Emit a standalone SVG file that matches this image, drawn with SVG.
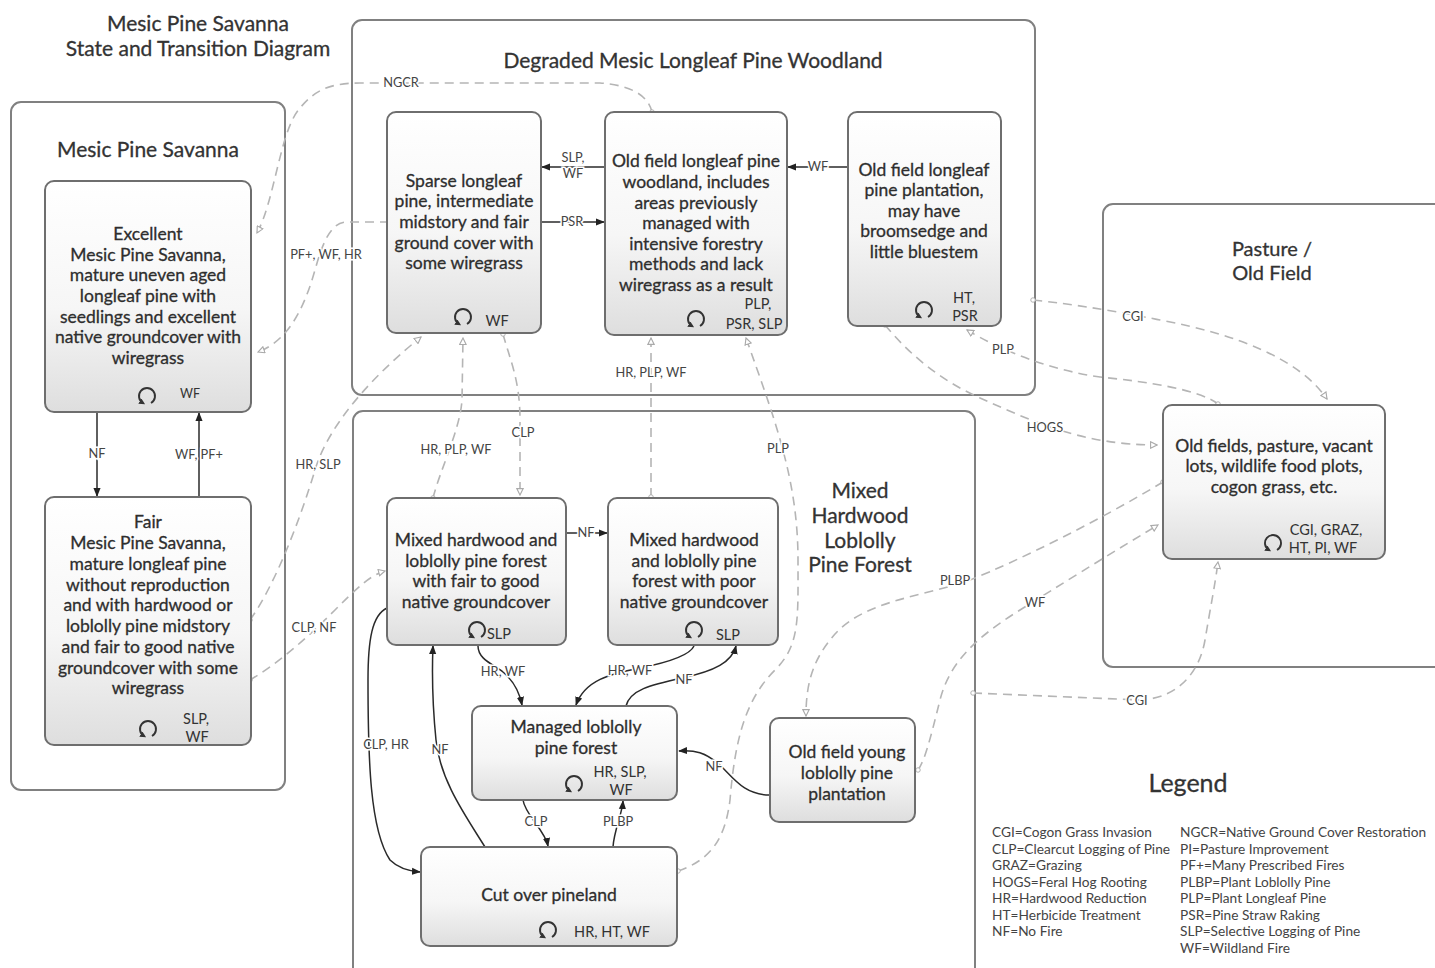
<svg xmlns="http://www.w3.org/2000/svg" width="1435" height="968" viewBox="0 0 1435 968">
<defs>
<style>
text{font-family:Lato,"Open Sans","Liberation Sans",sans-serif;fill:#2e2e2e}
.t{font-size:17.5px;text-anchor:middle;stroke:#2e2e2e;stroke-width:0.3}
.h{font-size:21px;text-anchor:middle;fill:#333;stroke:#333;stroke-width:0.3}
.l{font-size:12.8px;text-anchor:middle;fill:#444;stroke:#fff;stroke-width:3;paint-order:stroke}
.sl{font-size:14.5px;text-anchor:middle;fill:#333}
.lg{font-size:13.7px;fill:#444}
.cont{fill:#fff;stroke:#808080;stroke-width:2}
.node{fill:url(#gr);stroke:#6e6e6e;stroke-width:2}
.d{fill:none;stroke:#b5b5b5;stroke-width:1.6;stroke-dasharray:9 6;marker-end:url(#oa);marker-start:url(#oc)}
.a{fill:none;stroke:#2a2a2a;stroke-width:1.5;marker-end:url(#ar)}
.lp{fill:none;stroke:#333;stroke-width:1.9;marker-end:url(#la)}
</style>
<linearGradient id="gr" x1="0" y1="0" x2="0" y2="1">
<stop offset="0" stop-color="#ffffff"/>
<stop offset="0.55" stop-color="#f6f6f6"/>
<stop offset="1" stop-color="#dedede"/>
</linearGradient>
<marker id="ar" viewBox="0 0 10 10" refX="9" refY="5" markerWidth="6" markerHeight="6" orient="auto"><path d="M0,1 L10,5 L0,9 Z" fill="#222"/></marker>
<marker id="la" viewBox="0 0 10 10" refX="6" refY="5" markerWidth="3.2" markerHeight="3.2" orient="auto"><path d="M0,0 L10,5 L0,10 Z" fill="#333"/></marker>
<marker id="oa" viewBox="0 0 10 10" refX="9" refY="5" markerWidth="5" markerHeight="5" orient="auto" markerUnits="strokeWidth"><path d="M1,1 L9,5 L1,9 Z" fill="#fff" stroke="#aaa" stroke-width="1.4"/></marker>
<marker id="oc" viewBox="0 0 10 10" refX="5" refY="5" markerWidth="4" markerHeight="4" markerUnits="strokeWidth"><circle cx="5" cy="5" r="3.5" fill="#fff" stroke="#aaa" stroke-width="1.4"/></marker>
<g id="loop"><path class="lp" d="M4,7 A8,8 0 1 0 -4,7"/></g>
</defs>
<rect width="1435" height="968" fill="#fff"/>

<text class="h" x="198" y="31">Mesic Pine Savanna</text>
<text class="h" x="198" y="56">State and Transition Diagram</text>

<g id="c-mps">
<rect class="cont" x="11" y="102" width="274" height="688" rx="10"/>
<text class="h" x="148" y="157">Mesic Pine Savanna</text>
</g>
<g id="c-deg">
<rect class="cont" x="352" y="20" width="683" height="375" rx="10"/>
<text class="h" x="693" y="68">Degraded Mesic Longleaf Pine Woodland</text>
</g>
<g id="c-past">
<rect class="cont" x="1103" y="204" width="345" height="463" rx="10"/>
<text class="h" x="1272" y="256" style="font-size:20px">Pasture /</text>
<text class="h" x="1272" y="280" style="font-size:20px">Old Field</text>
</g>
<g id="c-mix">
<rect class="cont" x="353" y="411" width="622" height="580" rx="10"/>
<text class="h" x="860" y="498">Mixed</text>
<text class="h" x="860" y="523">Hardwood</text>
<text class="h" x="860" y="548">Loblolly</text>
<text class="h" x="860" y="572">Pine Forest</text>
</g>

<g id="connectors">
<path class="d" d="M652,112 C648,95 630,85 600,83 L360,83 C330,83 315,90 300,108 C280,130 275,200 257,233"/>
<path class="d" d="M389,222 L347,222 C330,222 322,245 315,270 C305,305 290,340 258,352"/>
<path class="d" d="M250,620 C275,585 300,520 315,470 C330,420 380,370 421,337"/>
<path class="d" d="M250,680 C275,665 300,645 335,610 C355,590 370,575 385,571"/>
<path class="d" d="M433,498 C440,470 460,430 462,400 L463,338"/>
<path class="d" d="M503,334 C510,360 520,380 520,420 L520,495"/>
<path class="d" d="M651,497 L651,338"/>
<path class="d" d="M678,871 C710,860 725,840 730,800 C735,740 745,700 775,670 C800,645 798,620 798,560 C798,480 775,420 746,338"/>
<path class="d" d="M1218,404 C1200,390 1150,382 1100,377 C1050,370 1000,350 967,330"/>
<path class="d" d="M1033,300 C1080,305 1120,312 1160,320 C1240,335 1300,360 1327,399"/>
<path class="d" d="M885,325 C910,355 940,380 980,398 C1030,420 1080,445 1157,445"/>
<path class="d" d="M1163,482 C1100,520 1020,560 970,580 C920,598 860,600 830,640 C810,665 806,690 806,716"/>
<path class="d" d="M918,770 C925,760 930,740 940,700 C950,660 980,635 1020,610 C1060,585 1100,560 1158,525"/>
<path class="d" d="M973,693 L1140,700 C1180,698 1200,670 1205,640 C1210,610 1215,585 1218,562"/>

<path class="a" d="M97,412 L97,496"/>
<path class="a" d="M199,497 L199,413"/>
<path class="a" d="M605,167 L542,167"/>
<path class="a" d="M541,222 L604,222"/>
<path class="a" d="M848,167 L788,167"/>
<path class="a" d="M566,533 L607,533"/>
<path class="a" d="M478,646 C478,660 495,665 503,672 C515,682 520,695 522,705"/>
<path class="a" d="M694,646 C690,655 670,662 640,668 C610,674 585,680 576,705"/>
<path class="a" d="M626,706 C630,690 650,685 682,678 C715,671 732,662 736,646"/>
<path class="a" d="M770,795 C745,795 735,780 720,765 C705,752 695,750 679,751"/>
<path class="a" d="M523,800 C525,815 545,830 548,846"/>
<path class="a" d="M613,847 C614,830 622,815 623,801"/>
<path class="a" d="M387,608 C372,615 368,640 368,680 C368,760 370,830 390,860 C398,868 408,871 420,872"/>
<path class="a" d="M485,847 C465,815 440,780 436,740 C432,700 432,670 433,646"/>

<text class="l" x="401" y="87">NGCR</text>
<text class="l" x="326" y="259">PF+, WF, HR</text>
<text class="l" x="318" y="469">HR, SLP</text>
<text class="l" x="314" y="632">CLP, NF</text>
<text class="l" x="456" y="454">HR, PLP, WF</text>
<text class="l" x="523" y="437">CLP</text>
<text class="l" x="651" y="377">HR, PLP, WF</text>
<text class="l" x="778" y="453">PLP</text>
<text class="l" x="1003" y="354">PLP</text>
<text class="l" x="1133" y="321">CGI</text>
<text class="l" x="1045" y="432">HOGS</text>
<text class="l" x="955" y="585">PLBP</text>
<text class="l" x="1035" y="607">WF</text>
<text class="l" x="1137" y="705">CGI</text>
<text class="l" x="97" y="458">NF</text>
<text class="l" x="199" y="459">WF, PF+</text>
<text class="l" x="573" y="162">SLP,</text>
<text class="l" x="573" y="178">WF</text>
<text class="l" x="572" y="226">PSR</text>
<text class="l" x="818" y="171">WF</text>
<text class="l" x="586" y="537">NF</text>
<text class="l" x="503" y="676">HR, WF</text>
<text class="l" x="630" y="675">HR, WF</text>
<text class="l" x="684" y="684">NF</text>
<text class="l" x="714" y="771">NF</text>
<text class="l" x="536" y="826">CLP</text>
<text class="l" x="618" y="826">PLBP</text>
<text class="l" x="386" y="749">CLP, HR</text>
<text class="l" x="440" y="754">NF</text>
</g>

<g id="n-excellent">
<rect class="node" x="45" y="181" width="206" height="231" rx="9"/>
<text class="t" x="148" y="240">Excellent</text>
<text class="t" x="148" y="261">Mesic Pine Savanna,</text>
<text class="t" x="148" y="281">mature uneven aged</text>
<text class="t" x="148" y="302">longleaf pine with</text>
<text class="t" x="148" y="323">seedlings and excellent</text>
<text class="t" x="148" y="343">native groundcover with</text>
<text class="t" x="148" y="364">wiregrass</text>
<use href="#loop" x="147" y="396"/>
<text class="sl" x="190" y="398" style="font-size:12.5px">WF</text>
</g>
<g id="n-fair">
<rect class="node" x="45" y="497" width="206" height="248" rx="9"/>
<text class="t" x="148" y="528">Fair</text>
<text class="t" x="148" y="549">Mesic Pine Savanna,</text>
<text class="t" x="148" y="570">mature longleaf pine</text>
<text class="t" x="148" y="591">without reproduction</text>
<text class="t" x="148" y="611">and with hardwood or</text>
<text class="t" x="148" y="632">loblolly pine midstory</text>
<text class="t" x="148" y="653">and fair to good native</text>
<text class="t" x="148" y="674">groundcover with some</text>
<text class="t" x="148" y="694">wiregrass</text>
<use href="#loop" x="148" y="729"/>
<text class="sl" x="196" y="724">SLP,</text>
<text class="sl" x="197" y="742">WF</text>
</g>
<g id="n-sparse">
<rect class="node" x="387" y="112" width="154" height="221" rx="9"/>
<text class="t" x="464" y="187">Sparse longleaf</text>
<text class="t" x="464" y="207">pine, intermediate</text>
<text class="t" x="464" y="228">midstory and fair</text>
<text class="t" x="464" y="249">ground cover with</text>
<text class="t" x="464" y="269">some wiregrass</text>
<use href="#loop" x="463" y="317"/>
<text class="sl" x="497" y="326">WF</text>
</g>
<g id="n-oldwood">
<rect class="node" x="605" y="112" width="182" height="223" rx="9"/>
<text class="t" x="696" y="167">Old field longleaf pine</text>
<text class="t" x="696" y="188">woodland, includes</text>
<text class="t" x="696" y="209">areas previously</text>
<text class="t" x="696" y="229">managed with</text>
<text class="t" x="696" y="250">intensive forestry</text>
<text class="t" x="696" y="270">methods and lack</text>
<text class="t" x="696" y="291">wiregrass as a result</text>
<use href="#loop" x="696" y="319"/>
<text class="sl" x="758" y="309">PLP,</text>
<text class="sl" x="754" y="329">PSR, SLP</text>
</g>
<g id="n-oldplant">
<rect class="node" x="848" y="112" width="153" height="214" rx="9"/>
<text class="t" x="924" y="176">Old field longleaf</text>
<text class="t" x="924" y="196">pine plantation,</text>
<text class="t" x="924" y="217">may have</text>
<text class="t" x="924" y="237">broomsedge and</text>
<text class="t" x="924" y="258">little bluestem</text>
<use href="#loop" x="924" y="310"/>
<text class="sl" x="964" y="303">HT,</text>
<text class="sl" x="965" y="321">PSR</text>
</g>
<g id="n-oldfields">
<rect class="node" x="1163" y="405" width="222" height="154" rx="9"/>
<text class="t" x="1274" y="452">Old fields, pasture, vacant</text>
<text class="t" x="1274" y="472">lots, wildlife food plots,</text>
<text class="t" x="1274" y="493">cogon grass, etc.</text>
<use href="#loop" x="1273" y="543"/>
<text class="sl" x="1326" y="535">CGI, GRAZ,</text>
<text class="sl" x="1323" y="553">HT, PI, WF</text>
</g>
<g id="n-mixfair">
<rect class="node" x="387" y="498" width="179" height="147" rx="9"/>
<text class="t" x="476" y="546">Mixed hardwood and</text>
<text class="t" x="476" y="567">loblolly pine forest</text>
<text class="t" x="476" y="587">with fair to good</text>
<text class="t" x="476" y="608">native groundcover</text>
<use href="#loop" x="477" y="630"/>
<text class="sl" x="499" y="639">SLP</text>
</g>
<g id="n-mixpoor">
<rect class="node" x="608" y="498" width="170" height="147" rx="9"/>
<text class="t" x="694" y="546">Mixed hardwood</text>
<text class="t" x="694" y="567">and loblolly pine</text>
<text class="t" x="694" y="587">forest with poor</text>
<text class="t" x="694" y="608">native groundcover</text>
<use href="#loop" x="694" y="630"/>
<text class="sl" x="728" y="640">SLP</text>
</g>
<g id="n-managed">
<rect class="node" x="472" y="706" width="205" height="94" rx="9"/>
<text class="t" x="576" y="733">Managed loblolly</text>
<text class="t" x="576" y="754">pine forest</text>
<use href="#loop" x="574" y="784"/>
<text class="sl" x="620" y="777">HR, SLP,</text>
<text class="sl" x="621" y="795">WF</text>
</g>
<g id="n-young">
<rect class="node" x="770" y="718" width="145" height="104" rx="9"/>
<text class="t" x="847" y="758">Old field young</text>
<text class="t" x="847" y="779">loblolly pine</text>
<text class="t" x="847" y="800">plantation</text>
</g>
<g id="n-cutover">
<rect class="node" x="421" y="847" width="256" height="99" rx="9"/>
<text class="t" x="549" y="901">Cut over pineland</text>
<use href="#loop" x="548" y="930"/>
<text class="sl" x="612" y="937">HR, HT, WF</text>
</g>

<g id="legend">
<text x="1188" y="792" style="font-size:25px;text-anchor:middle;fill:#333;stroke:#333;stroke-width:0.3">Legend</text>
<text class="lg" x="992" y="837">CGI=Cogon Grass Invasion</text>
<text class="lg" x="992" y="854">CLP=Clearcut Logging of Pine</text>
<text class="lg" x="992" y="870">GRAZ=Grazing</text>
<text class="lg" x="992" y="887">HOGS=Feral Hog Rooting</text>
<text class="lg" x="992" y="903">HR=Hardwood Reduction</text>
<text class="lg" x="992" y="920">HT=Herbicide Treatment</text>
<text class="lg" x="992" y="936">NF=No Fire</text>
<text class="lg" x="1180" y="837">NGCR=Native Ground Cover Restoration</text>
<text class="lg" x="1180" y="854">PI=Pasture Improvement</text>
<text class="lg" x="1180" y="870">PF+=Many Prescribed Fires</text>
<text class="lg" x="1180" y="887">PLBP=Plant Loblolly Pine</text>
<text class="lg" x="1180" y="903">PLP=Plant Longleaf Pine</text>
<text class="lg" x="1180" y="920">PSR=Pine Straw Raking</text>
<text class="lg" x="1180" y="936">SLP=Selective Logging of Pine</text>
<text class="lg" x="1180" y="953">WF=Wildland Fire</text>
</g>
</svg>
